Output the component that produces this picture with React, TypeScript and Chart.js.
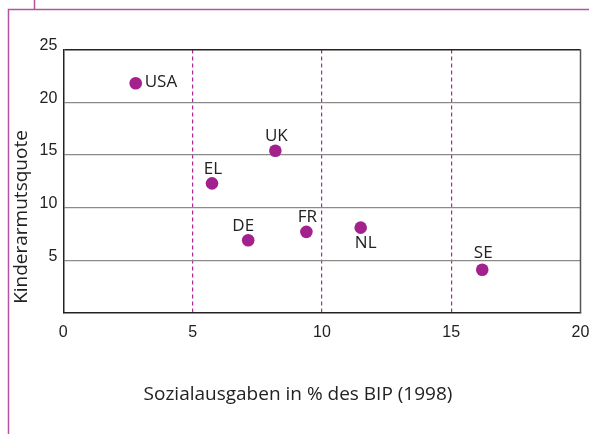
import React, { useEffect, useRef } from "react";
import { Chart, registerables } from "chart.js";

Chart.register(...registerables);

const countries = ["USA", "UK", "EL", "DE", "FR", "NL", "SE"];
const socialSpending = [2.8, 8.2, 5.75, 7.15, 9.4, 11.5, 16.2];
const childPoverty = [21.8, 15.4, 12.3, 6.9, 7.7, 8.1, 4.1];
const labelSide = ["right", "above", "above", "above", "above", "below", "above"];
const xTicks = [0, 5, 10, 15, 20];
const yTicks = [5, 10, 15, 20, 25];
const xTitle = "Sozialausgaben in % des BIP (1998)";
const yTitle = "Kinderarmutsquote";

const PURPLE = "#a3218c";
const FRAME = "#b3549f";
const LABEL_FONT = '"Open Sans", "Noto Sans", sans-serif';
const TICK_FONT = '"Liberation Sans", Arial, sans-serif';

const decor = {
  id: "decor",
  beforeDraw(chart: any) {
    const ctx = chart.ctx;
    ctx.save();
    ctx.strokeStyle = FRAME;
    ctx.lineWidth = 1.5;
    ctx.beginPath();
    ctx.moveTo(8.5, 434);
    ctx.lineTo(8.5, 9.5);
    ctx.lineTo(589, 9.5);
    ctx.moveTo(34.5, 0);
    ctx.lineTo(34.5, 9.5);
    ctx.stroke();
    ctx.restore();
  },
  afterDraw(chart: any) {
    const ctx = chart.ctx;
    const a = chart.chartArea;
    const xs = chart.scales.x;
    const ys = chart.scales.y;
    ctx.save();
    // right border
    ctx.strokeStyle = "#555";
    ctx.lineWidth = 1.5;
    ctx.beginPath();
    ctx.moveTo(a.right, a.top);
    ctx.lineTo(a.right, a.bottom);
    ctx.stroke();
    // titles
    ctx.fillStyle = "#222";
    ctx.font = `19px ${LABEL_FONT}`;
    ctx.textAlign = "center";
    ctx.textBaseline = "middle";
    ctx.fillText(xTitle, 298, 395);
    ctx.save();
    ctx.translate(22, 217);
    ctx.rotate(-Math.PI / 2);
    ctx.fillText(yTitle, 0, 0);
    ctx.restore();
    // data labels
    ctx.font = `17px ${LABEL_FONT}`;
    ctx.fillStyle = "#222";
    countries.forEach((c, i) => {
      const px = xs.getPixelForValue(socialSpending[i]);
      const py = ys.getPixelForValue(childPoverty[i]);
      const side = labelSide[i];
      if (side === "right") {
        ctx.textAlign = "left";
        ctx.fillText(c, px + 9, py - 1);
      } else if (side === "below") {
        ctx.textAlign = "center";
        ctx.fillText(c, px + 5, py + 16);
      } else {
        ctx.textAlign = "center";
        const dx = c === "DE" ? -5 : 1;
        const dy = c === "SE" ? 17 : 14.5;
        ctx.fillText(c, px + dx, py - dy);
      }
    });
    ctx.restore();
  },
};

export default function App() {
  const ref = useRef<HTMLCanvasElement>(null);
  useEffect(() => {
    if (!ref.current) return;
    const chart = new Chart(ref.current, {
      type: "scatter",
      data: {
        datasets: [
          {
            data: countries.map((_, i) => ({ x: socialSpending[i], y: childPoverty[i] })),
            backgroundColor: PURPLE,
            borderWidth: 0,
            pointRadius: 6.3,
          },
        ],
      },
      options: {
        responsive: false,
        animation: false,
        events: [],
        layout: { padding: { left: 0, top: 49.5, right: 8.5, bottom: 0 } },
        plugins: { legend: { display: false }, tooltip: { enabled: false } },
        scales: {
          x: {
            type: "linear",
            min: 0,
            max: 20,
            afterFit: (s: any) => {
              s.height = 121;
              s.paddingLeft = 0;
              s.paddingRight = 0;
            },
            afterBuildTicks: (s: any) => {
              s.ticks = xTicks.map((v) => ({ value: v }));
            },
            grid: {
              drawTicks: false,
              lineWidth: 1.2,
              color: (ctx: any) => {
                const v = ctx.tick?.value;
                return v === 5 || v === 10 || v === 15 ? "#b1279a" : "rgba(0,0,0,0)";
              },
            },
            border: { color: "#222", width: 1.5, dash: [4, 3] },
            ticks: {
              padding: 10,
              color: "#222",
              font: { family: TICK_FONT, size: 16 },
              maxRotation: 0,
            },
          },
          y: {
            type: "linear",
            min: 0,
            max: 25,
            afterFit: (s: any) => {
              s.width = 63.3;
              s.paddingTop = 0;
              s.paddingBottom = 0;
            },
            afterBuildTicks: (s: any) => {
              s.ticks = [0, ...yTicks].map((v) => ({ value: v }));
            },
            grid: {
              drawTicks: false,
              lineWidth: (ctx: any) => (ctx.tick?.value === 25 ? 1.5 : 1.2),
              color: (ctx: any) => {
                const v = ctx.tick?.value;
                if (v === 0) return "rgba(0,0,0,0)";
                if (v === 25) return "#222";
                return "#8a8a8a";
              },
            },
            border: { color: "#222", width: 1.5 },
            ticks: {
              padding: 6,
              labelOffset: -4,
              color: "#222",
              font: { family: TICK_FONT, size: 16 },
              callback: (v: any) => (v === 0 ? "" : String(v)),
            },
          },
        },
      },
      plugins: [decor],
    });
    return () => chart.destroy();
  }, []);
  return (
    <div style={{ position: "fixed", left: 0, top: 0, width: 589, height: 434, background: "#fff" }}>
      <canvas ref={ref} width={589} height={434} style={{ display: "block" }} />
    </div>
  );
}
